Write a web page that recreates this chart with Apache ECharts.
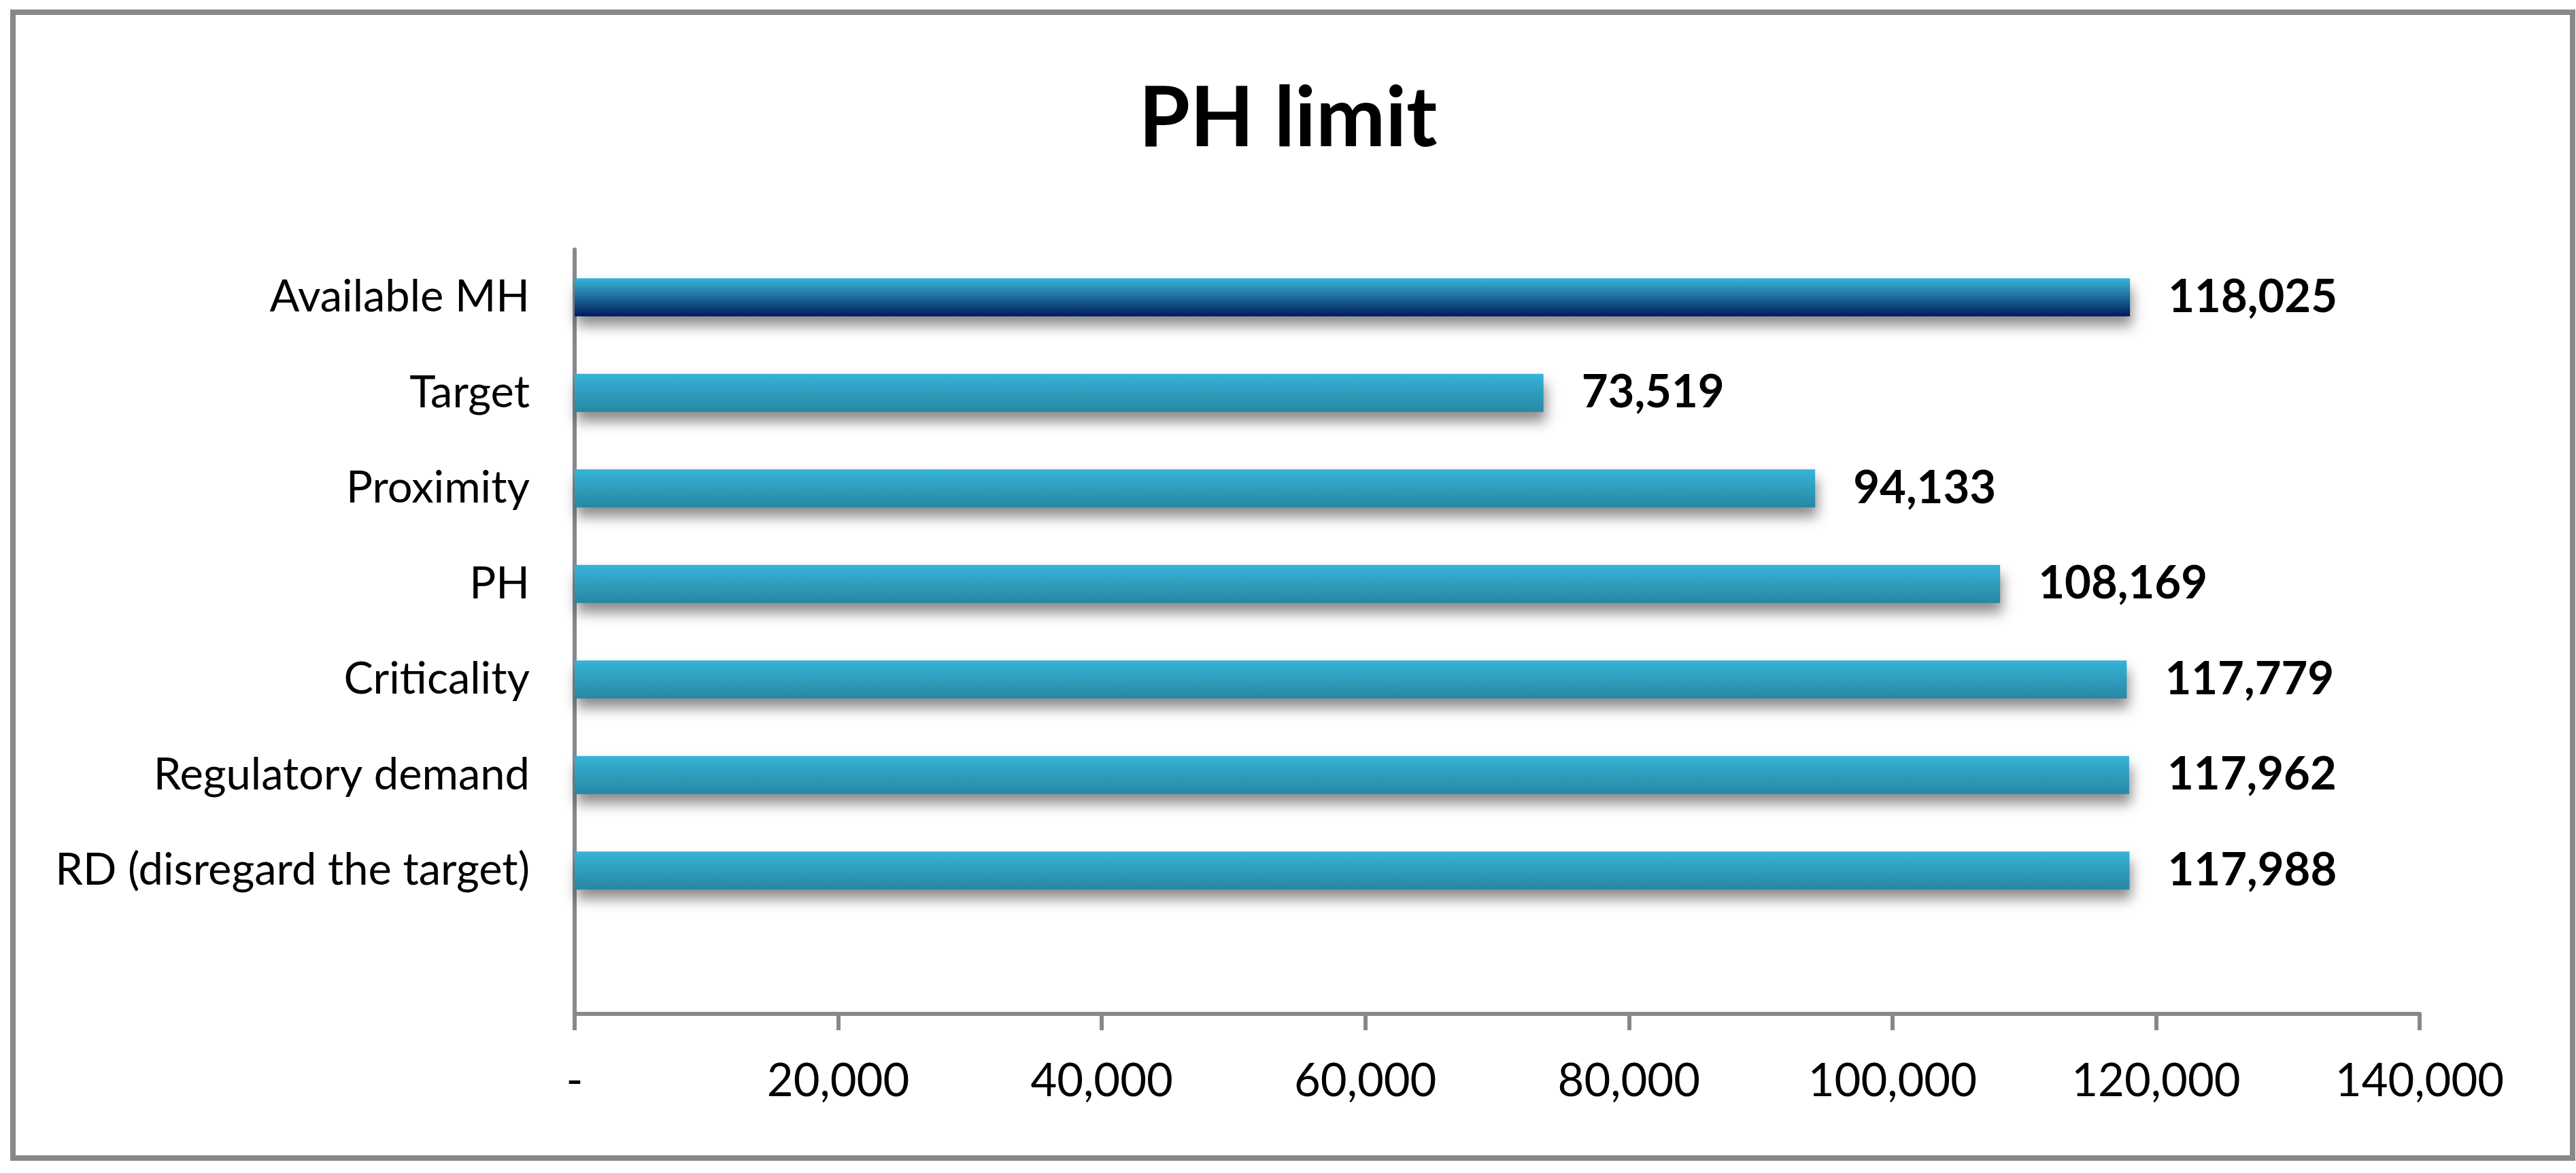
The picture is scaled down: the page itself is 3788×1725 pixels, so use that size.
<!DOCTYPE html>
<html>
<head>
<meta charset="utf-8">
<script src="https://cdn.jsdelivr.net/npm/echarts@6/dist/echarts.min.js"></script>
<style>
html,body{margin:0;padding:0;background:#fff;}
#chart{width:3788px;height:1725px;}
</style>
</head>
<body>
<div id="chart"></div>
<script>
// Categories from bottom to top (bottom slot is an empty category)
const categories = ["", "RD (disregard the target)", "Regulatory demand", "Criticality", "PH", "Proximity", "Target", "Available MH"];
const values = [null, 117988, 117962, 117779, 108169, 94133, 73519, 118025];
const highlightCategory = "Available MH";
const xTicks = { min: 0, max: 140000, interval: 20000 };
const titleText = "PH limit";

const FONT = "Lato, 'Open Sans', sans-serif";

function fmt(v) {
  if (v === 0) return '-';
  return v.toLocaleString('en-US');
}

const normalGrad = new echarts.graphic.LinearGradient(0, 0, 0, 1, [
  { offset: 0, color: '#37b3d8' },
  { offset: 1, color: '#2787a3' }
]);
const darkGrad = new echarts.graphic.LinearGradient(0, 0, 0, 1, [
  { offset: 0, color: '#37b3d8' },
  { offset: 0.5, color: '#1d6b9c' },
  { offset: 1, color: '#001a5b' }
]);

const seriesData = values.map((v, i) => ({
  value: v,
  itemStyle: { color: categories[i] === highlightCategory ? darkGrad : normalGrad }
}));

const chart = echarts.init(document.getElementById('chart'));
chart.setOption({
  backgroundColor: '#ffffff',
  animation: false,
  title: {
    text: titleText,
    left: 'center',
    top: 104,
    textStyle: { fontFamily: FONT, fontWeight: 'bold', fontSize: 122, color: '#000', lineHeight: 134 }
  },
  graphic: [{
    type: 'rect',
    shape: { x: 19, y: 18, width: 3764, height: 1685 },
    style: { fill: 'none', stroke: '#888888', lineWidth: 8 },
    silent: true
  }],
  grid: { left: 845, right: 230, top: 367, bottom: 234, containLabel: false },
  xAxis: {
    type: 'value',
    min: xTicks.min, max: xTicks.max, interval: xTicks.interval,
    axisLine: { show: true, lineStyle: { color: '#888888', width: 6 } },
    axisTick: { show: true, length: 24, lineStyle: { color: '#888888', width: 6 } },
    splitLine: { show: false },
    axisLabel: {
      margin: 66,
      fontFamily: FONT, fontSize: 67, color: '#000',
      formatter: fmt
    }
  },
  yAxis: {
    type: 'category',
    data: categories,
    axisLine: { show: true, lineStyle: { color: '#888888', width: 6 } },
    axisTick: { show: false },
    axisLabel: { margin: 66, fontFamily: FONT, fontSize: 65, color: '#000' }
  },
  series: [{
    type: 'bar',
    data: seriesData,
    barWidth: 56,
    itemStyle: {
      shadowColor: 'rgba(0,0,0,0.45)',
      shadowBlur: 18,
      shadowOffsetY: 14,
      shadowOffsetX: 3
    },
    label: {
      show: true,
      position: 'right',
      distance: 56,
      fontFamily: FONT, fontWeight: 'bold', fontSize: 67, color: '#000',
      formatter: p => p.value == null ? '' : fmt(p.value)
    }
  }]
});
</script>
</body>
</html>
